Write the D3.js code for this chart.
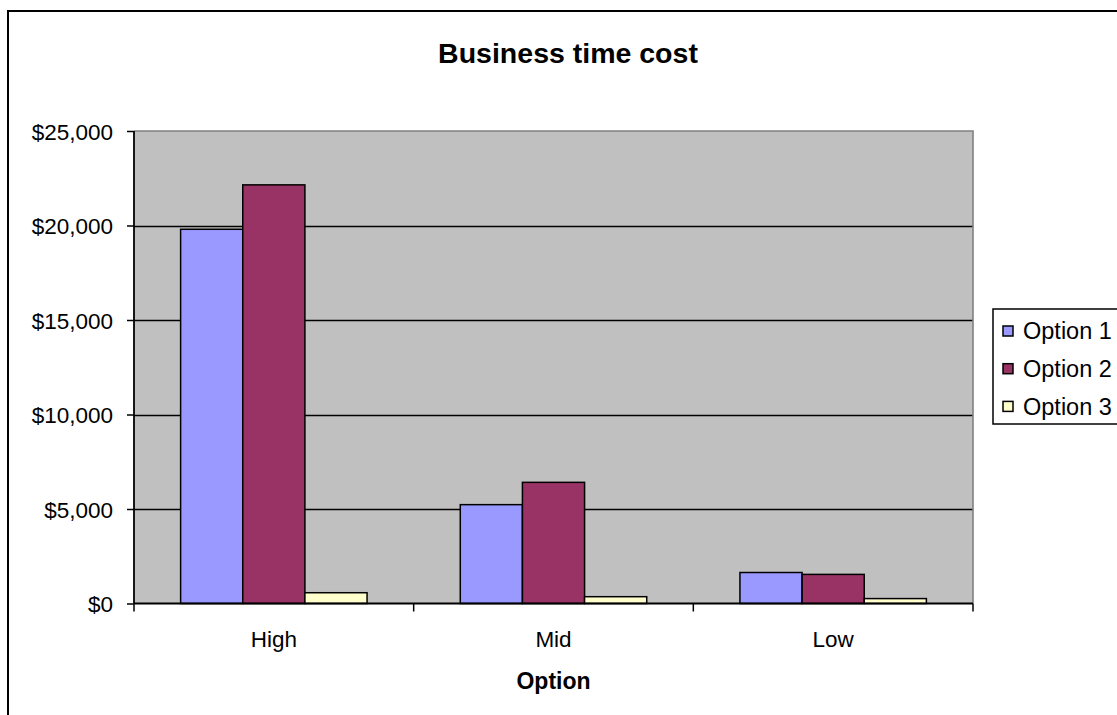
<!DOCTYPE html>
<html>
<head>
<meta charset="utf-8">
<script src="https://cdn.jsdelivr.net/npm/d3@7"></script>
<style>
  html, body { margin: 0; padding: 0; background: #ffffff; }
  svg { display: block; }
  text { font-family: "Liberation Sans", Arial, sans-serif; fill: #000; }
</style>
</head>
<body>
<svg id="chart" width="1117" height="715"></svg>
<script>
// Chart data
const categories = ["High", "Mid", "Low"];
const seriesNames = ["Option 1", "Option 2", "Option 3"];
const option1 = [19800, 5230, 1640];
const option2 = [22150, 6410, 1540];
const option3 = [570, 360, 260];
const yTicks = [0, 5000, 10000, 15000, 20000, 25000];
const seriesColors = ["#9999FF", "#993366", "#FFFFCC"];

const seriesValues = [option1, option2, option3];
const rows = categories.map((c, i) => ({
  category: c,
  values: seriesNames.map((s, j) => ({ series: s, value: seriesValues[j][i] }))
}));

const svg = d3.select("#chart");
const plot = { left: 134, right: 973, top: 131, bottom: 603.5 };

// Outer chart border
svg.append("rect")
  .attr("x", 8).attr("y", 11)
  .attr("width", 1130).attr("height", 730)
  .attr("fill", "#ffffff")
  .attr("stroke", "#000").attr("stroke-width", 2);

// Title
svg.append("text")
  .attr("x", 568).attr("y", 63)
  .attr("text-anchor", "middle")
  .style("font-size", "28.5px")
  .style("font-weight", "bold")
  .text("Business time cost");

// Scales
const x0 = d3.scaleBand().domain(categories).range([plot.left, plot.right]).padding(0);
const x1 = d3.scaleBand().domain(seriesNames).range([0, x0.bandwidth()])
  .paddingInner(0).paddingOuter(0.75);
const y = d3.scaleLinear().domain([0, 25000]).range([plot.bottom, plot.top]);
const color = d3.scaleOrdinal().domain(seriesNames).range(seriesColors);

// Plot background
svg.append("rect")
  .attr("x", plot.left).attr("y", plot.top)
  .attr("width", plot.right - plot.left).attr("height", plot.bottom - plot.top)
  .attr("fill", "#C0C0C0");

// Gridlines
svg.append("g")
  .selectAll("line")
  .data(yTicks.filter(t => t > 0 && t < 25000))
  .join("line")
  .attr("x1", plot.left).attr("x2", plot.right)
  .attr("y1", d => Math.round(y(d)) + 0.5).attr("y2", d => Math.round(y(d)) + 0.5)
  .attr("stroke", "#000").attr("stroke-width", 1.6);

// Plot border (top and right)
svg.append("path")
  .attr("d", `M${plot.left},${plot.top}H${plot.right}V${plot.bottom}`)
  .attr("fill", "none")
  .attr("stroke", "#808080").attr("stroke-width", 1.6);

// Bars
const groups = svg.append("g")
  .selectAll("g")
  .data(rows)
  .join("g")
  .attr("transform", d => `translate(${x0(d.category)},0)`);

groups.selectAll("rect")
  .data(d => d.values)
  .join("rect")
  .attr("x", d => x1(d.series))
  .attr("y", d => y(d.value))
  .attr("width", x1.bandwidth())
  .attr("height", d => y(0) - y(d.value))
  .attr("fill", d => color(d.series))
  .attr("stroke", "#000").attr("stroke-width", 1.5);

// Y axis
const yAxis = svg.append("g")
  .attr("transform", `translate(${plot.left},0)`)
  .call(d3.axisLeft(y)
    .tickValues(yTicks)
    .tickSizeInner(7).tickSizeOuter(0).tickPadding(14)
    .tickFormat(d => "$" + d3.format(",")(d)));
yAxis.select(".domain").remove();
yAxis.selectAll(".tick line").attr("stroke", "#000").attr("stroke-width", 1.5);
yAxis.selectAll(".tick text")
  .attr("dy", "0.36em")
  .style("font-size", "22.5px")
  .style("font-family", "'Liberation Sans', Arial, sans-serif")
  .attr("fill", "#000");
svg.append("line")
  .attr("x1", plot.left).attr("x2", plot.left)
  .attr("y1", plot.top).attr("y2", plot.bottom)
  .attr("stroke", "#000").attr("stroke-width", 1.8);

// X axis: labels at band centres, ticks at band boundaries
const xAxis = svg.append("g")
  .attr("transform", `translate(0,${plot.bottom})`)
  .call(d3.axisBottom(x0).tickSize(0));
xAxis.select(".domain").remove();
xAxis.selectAll(".tick text")
  .attr("y", 43).attr("dy", null)
  .style("font-size", "22.5px")
  .style("font-family", "'Liberation Sans', Arial, sans-serif")
  .attr("fill", "#000");
const boundaries = categories.map(c => x0(c)).concat([plot.right]);
svg.append("g")
  .selectAll("line")
  .data(boundaries)
  .join("line")
  .attr("x1", d => d).attr("x2", d => d)
  .attr("y1", plot.bottom).attr("y2", plot.bottom + 8)
  .attr("stroke", "#000").attr("stroke-width", 1.5);
svg.append("line")
  .attr("x1", plot.left).attr("x2", plot.right)
  .attr("y1", plot.bottom).attr("y2", plot.bottom)
  .attr("stroke", "#000").attr("stroke-width", 1.8);

// X axis title
svg.append("text")
  .attr("x", (plot.left + plot.right) / 2).attr("y", 689)
  .attr("text-anchor", "middle")
  .style("font-size", "23px")
  .style("font-weight", "bold")
  .text("Option");

// Legend
const legend = svg.append("g");
legend.append("rect")
  .attr("x", 993).attr("y", 309)
  .attr("width", 140).attr("height", 115)
  .attr("fill", "#ffffff")
  .attr("stroke", "#000").attr("stroke-width", 1.5);
const items = legend.selectAll("g.item")
  .data(seriesNames)
  .join("g")
  .attr("class", "item")
  .attr("transform", (d, i) => `translate(0,${331 + i * 37.7})`);
items.append("rect")
  .attr("x", 1003).attr("y", -5)
  .attr("width", 10).attr("height", 10)
  .attr("fill", d => color(d))
  .attr("stroke", "#000").attr("stroke-width", 1.5);
items.append("text")
  .attr("x", 1023).attr("y", 0).attr("dy", "0.36em")
  .style("font-size", "23.5px")
  .text(d => d);
</script>
</body>
</html>
